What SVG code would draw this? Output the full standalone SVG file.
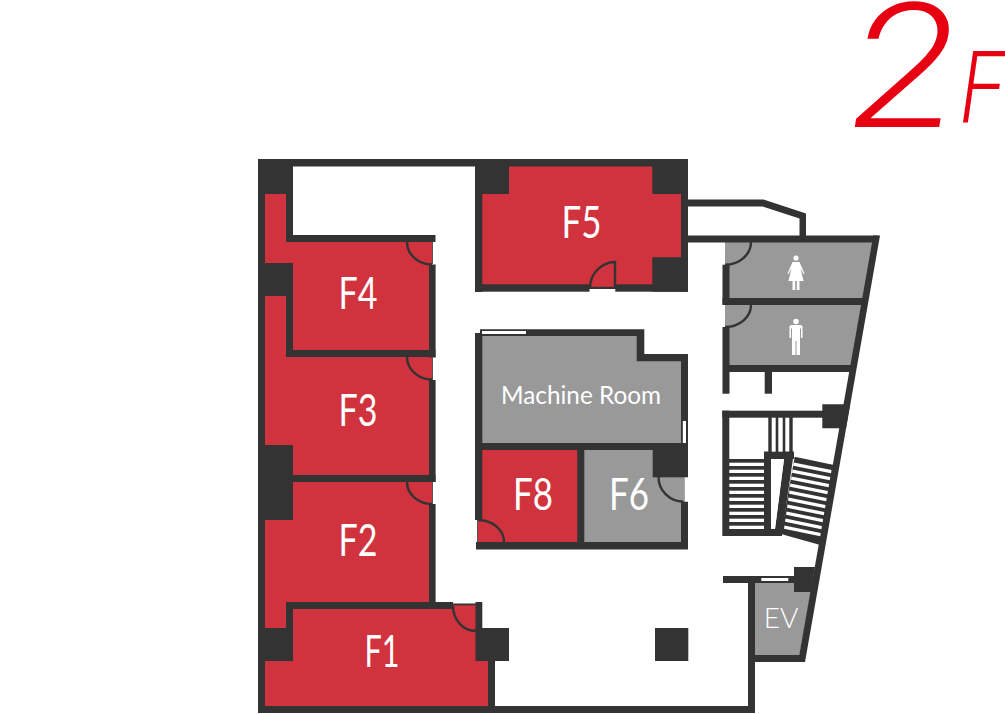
<svg xmlns="http://www.w3.org/2000/svg" width="1005" height="714" viewBox="0 0 1005 714">
<style>
.red{fill:#d0333d}.gray{fill:#999}.wall{fill:#333}
.door{fill:none;stroke:#333;stroke-width:2.4}
.thin{fill:none;stroke:#555;stroke-width:1}
.lb{font-family:Lato,"Noto Sans",sans-serif;fill:#fff;text-anchor:middle;font-size:44px;font-weight:400}
.win{fill:#fff}
.stair{fill:#fff}
.icon{fill:#fff}
.fl{font-family:Roboto,"Liberation Sans",sans-serif;fill:#e60012;font-style:italic;font-weight:300}
</style>
<g id="F-all"><polygon class="red" points="265,190 286,190 286,240 432,240 432,605 482,605 482,628 488,628 488,706 265,706"/></g>
<g id="F5"><rect class="red" x="480" y="165" width="203" height="124"/></g>
<g id="machine-room"><polygon class="gray" points="480,334 640,334 640,358 683,358 683,445 480,445"/></g>
<g id="F8"><rect class="red" x="478" y="448" width="101" height="96"/></g>
<g id="F6"><rect class="gray" x="582" y="448" width="101.300" height="96"/></g>
<g id="wc-female"><polygon class="gray" points="725,240 875,240 863,300 725,300"/></g>
<g id="wc-male"><polygon class="gray" points="725,303 865,303 851,367 725,367"/></g>
<g id="ev"><polygon class="gray" points="753,581 813,581 799,657 753,657"/></g>
<g id="walls">
<rect class="wall" x="258" y="159" width="430" height="7.500"/>
<rect class="wall" x="258" y="159" width="35" height="35"/>
<rect class="wall" x="258" y="159" width="7" height="554"/>
<rect class="wall" x="258" y="706" width="497" height="7"/>
<rect class="wall" x="258" y="263" width="35" height="33"/>
<rect class="wall" x="258" y="445" width="35" height="75"/>
<rect class="wall" x="258" y="628" width="35" height="33"/>
<rect class="wall" x="286" y="194" width="7" height="48"/>
<rect class="wall" x="286" y="235" width="149.500" height="7"/>
<rect class="wall" x="429" y="264.500" width="6.600" height="93"/>
<rect class="wall" x="286" y="296" width="7" height="61"/>
<rect class="wall" x="286" y="350" width="149.500" height="7"/>
<rect class="wall" x="429" y="380" width="6.600" height="102"/>
<rect class="wall" x="286" y="475" width="149.500" height="7"/>
<rect class="wall" x="429" y="504" width="6.600" height="105"/>
<rect class="wall" x="286" y="602" width="167" height="7"/>
<rect class="wall" x="286" y="602" width="7" height="30"/>
<rect class="wall" x="453" y="603.500" width="23" height="1.800"/>
<rect class="wall" x="475.500" y="602" width="6.800" height="30"/>
<rect class="wall" x="475.500" y="628" width="33.500" height="33"/>
<rect class="wall" x="488" y="661" width="7" height="52"/>
<rect class="wall" x="655" y="628" width="33.300" height="33"/>
<rect class="wall" x="475" y="159" width="7.300" height="133"/>
<rect class="wall" x="475" y="159" width="34" height="35"/>
<rect class="wall" x="652.300" y="159" width="35.700" height="35"/>
<rect class="wall" x="652.300" y="257.300" width="35.700" height="34.400"/>
<rect class="wall" x="681" y="159" width="7" height="132.700"/>
<rect class="wall" x="475" y="284.300" width="114.500" height="7.400"/>
<rect class="wall" x="615.300" y="284.300" width="72" height="7.400"/>
<path class="door" d="M615,288V262A25.500,26 0 0 0 590,288"/>
<rect class="wall" x="589" y="286.800" width="27" height="2.200"/>
<polygon class="wall" points="688,199.500 763.500,199.500 806,213.500 806,240 799.500,240 799.500,218.500 762.500,206.500 688,206.500"/>
<rect class="wall" x="688" y="235.500" width="190" height="7"/>
<polygon class="wall" points="880,235.500 805,662 798,662 873.300,235.500"/>
<rect class="wall" x="722.500" y="298" width="142" height="7"/>
<rect class="wall" x="729" y="365" width="124" height="7"/>
<rect class="wall" x="722.500" y="264.700" width="7" height="40"/>
<rect class="wall" x="722.500" y="327" width="7" height="66.700"/>
<rect class="wall" x="764.700" y="372" width="7.300" height="21.700"/>
<path class="door" d="M751,242A26,22.700 0 0 1 725,264.700M751,305A26,22 0 0 1 725,327"/>
<rect class="wall" x="475" y="333" width="7.300" height="187"/>
<path class="wall" d="M480,329.300H644.300V354H688V421H681V361.300H636.700V336H480Z"/>
<rect class="win" x="482" y="331" width="44" height="3"/>
<rect class="win" x="682.700" y="421" width="3.300" height="21.700"/>
<rect class="wall" x="681" y="421" width="1.700" height="22"/>
<rect class="wall" x="686" y="421" width="2" height="22"/>
<rect class="wall" x="475" y="443" width="213" height="7"/>
<rect class="wall" x="652.700" y="443" width="35.300" height="34.300"/>
<rect class="wall" x="577.300" y="443" width="7" height="106"/>
<rect class="wall" x="476" y="542" width="212" height="7.500"/>
<rect class="wall" x="681" y="501.700" width="7" height="47"/>
<path class="thin" d="M477.500,520V542M684,477V502M432.500,242V264M432.500,357V380M432.500,482V504"/>
<path class="door" d="M407,242A25,22.500 0 0 0 432,264.500M407,357A25,22.500 0 0 0 432,379.500M407,482A25,22 0 0 0 432,504M453,606A22.500,25 0 0 0 475.500,631M478,520A26,22 0 0 1 504,542M658.500,477A25,24.700 0 0 0 683.500,501.700"/>
<rect class="wall" x="722.300" y="410.700" width="7" height="125.300"/>
<rect class="wall" x="722.300" y="410.700" width="105" height="7"/>
<polygon class="wall" points="822.300,404.300 850,404.300 846,428.300 822.300,428.300"/>
<rect class="wall" x="768.300" y="417" width="3.400" height="36"/>
<rect class="wall" x="775.700" y="417" width="2.600" height="36"/>
<rect class="wall" x="782.700" y="417" width="2.600" height="36"/>
<rect class="wall" x="789.300" y="417" width="3.400" height="36"/>
<rect class="wall" x="764" y="451.700" width="30" height="7.300"/>
<rect class="wall" x="764" y="451.700" width="7" height="84"/>
<rect class="wall" x="729" y="529" width="53" height="7"/>
<polygon class="wall" points="794,451.700 781.700,536 775,536 775,529 784,459 784,451.700"/>
<rect class="wall" x="729" y="459" width="35" height="70"/>
<polygon class="wall" points="794.700,456.700 834,465 820.300,545 781,534"/>
<rect class="wall" x="723" y="576" width="72" height="7"/>
<rect class="wall" x="748" y="576" width="7" height="137"/>
<polygon class="wall" points="794,567 815,567 811,592 794,592"/>
<rect class="wall" x="750" y="655" width="55" height="7"/>
<rect class="win" x="761.300" y="578" width="27" height="3"/>
</g>
<g id="stairs">
<rect class="stair" x="729.300" y="462.700" width="34.700" height="3.300"/>
<rect class="stair" x="729.300" y="469.700" width="34.700" height="3.300"/>
<rect class="stair" x="729.300" y="476.700" width="34.700" height="3.300"/>
<rect class="stair" x="729.300" y="483.700" width="34.700" height="3.300"/>
<rect class="stair" x="729.300" y="490.700" width="34.700" height="3.300"/>
<rect class="stair" x="729.300" y="497.700" width="34.700" height="3.300"/>
<rect class="stair" x="729.300" y="504.700" width="34.700" height="3.300"/>
<rect class="stair" x="729.300" y="511.700" width="34.700" height="3.300"/>
<rect class="stair" x="729.300" y="518.700" width="34.700" height="3.300"/>
<rect class="stair" x="729.300" y="525.700" width="34.700" height="3.300"/>
<polygon class="stair" points="771,459 784,459 775,529 771,529"/>
<g id="treads">
<polygon class="stair" points="793.600,462.500 831.500,470 831,473.300 793.100,465.800"/>
<polygon class="stair" points="792.500,469.500 830.300,477 829.800,480.300 792,472.800"/>
<polygon class="stair" points="791.500,476.500 829.100,484 828.600,487.300 791,479.800"/>
<polygon class="stair" points="790.500,483.500 827.900,491 827.400,494.300 790,486.800"/>
<polygon class="stair" points="789.500,490.500 826.700,498 826.200,501.300 789,493.800"/>
<polygon class="stair" points="788.500,497.500 825.500,505 825,508.300 788,500.800"/>
<polygon class="stair" points="787.500,504.500 824.300,512 823.800,515.300 787,507.800"/>
<polygon class="stair" points="786.500,511.500 823.100,519 822.600,522.300 786,514.800"/>
<polygon class="stair" points="785.500,518.500 821.900,526 821.400,529.300 785,521.800"/>
<polygon class="stair" points="784.500,525.500 820.700,533 820.200,536.300 784,528.800"/>
</g>
</g>
<g id="labels">
<text class="lb" x="358" y="309" textLength="39" lengthAdjust="spacingAndGlyphs">F4</text>
<text class="lb" x="358" y="426" textLength="39" lengthAdjust="spacingAndGlyphs">F3</text>
<text class="lb" x="358" y="556" textLength="39" lengthAdjust="spacingAndGlyphs">F2</text>
<text class="lb" x="382" y="667" textLength="35" lengthAdjust="spacingAndGlyphs">F1</text>
<text class="lb" x="581.500" y="238" textLength="40" lengthAdjust="spacingAndGlyphs">F5</text>
<text class="lb" x="533" y="510" textLength="40" lengthAdjust="spacingAndGlyphs">F8</text>
<text class="lb" x="629" y="510" textLength="40" lengthAdjust="spacingAndGlyphs">F6</text>
<text class="lb" x="781" y="628" style="font-size:28px;font-weight:300">EV</text>
<text class="lb" x="581" y="404" style="font-size:25px" textLength="160" lengthAdjust="spacingAndGlyphs">Machine Room</text>
</g>
<g id="icons">
<circle class="icon" cx="796" cy="258" r="2.600"/>
<path class="icon" d="M792.500,262H799.500L804.500,273.500 803.500,274 800.500,268 803.500,281H799.500V290H796.800V281H795.200V290H792.500V281H788.500L791.500,268 788.500,274 787.500,273.500Z"/>
<circle class="icon" cx="796" cy="321.500" r="2.800"/>
<path class="icon" d="M791.500,325H800.500Q802.500,325 802.500,327V338H801V328.500H800V355H796.500V341H795.500V355H792V328.500H791V338H789.500V327Q789.500,325 791.500,325Z"/>
</g>
<g id="floor-title">
<text class="fl" x="851" y="127" font-size="174" textLength="105" lengthAdjust="spacingAndGlyphs">2</text>
<text class="fl" x="960" y="122" font-size="100" textLength="45" lengthAdjust="spacingAndGlyphs">F</text>
</g>
</svg>
